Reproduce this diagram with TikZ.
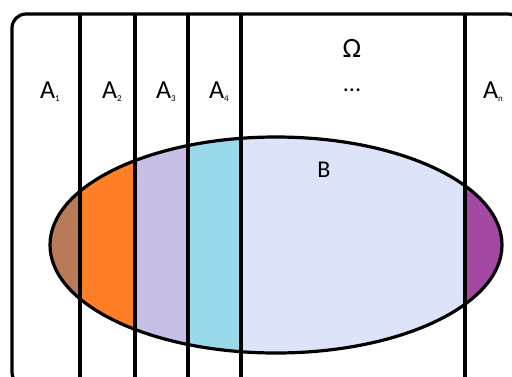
\documentclass[tikz,border=0pt]{standalone}
\usepackage{fontspec}
\setmainfont{Carlito}
\definecolor{cbrown}{HTML}{B97A57}
\definecolor{corange}{HTML}{FF7F27}
\definecolor{clav}{HTML}{C8BFE7}
\definecolor{ccyan}{HTML}{99D9EA}
\definecolor{cpale}{HTML}{DDE4FA}
\definecolor{cpurple}{HTML}{A349A4}
\newcommand{\Asub}[1]{A\raisebox{-3pt}{\fontsize{9}{9}\selectfont #1}}
\tikzset{
  edge/.style={line width=3.2pt, black},
  biglabel/.style={font=\fontsize{26}{26}\selectfont, inner sep=0pt},
  midlabel/.style={font=\fontsize{24}{24}\selectfont, inner sep=0pt},
  omegalabel/.style={font=\fontsize{28}{28}\selectfont, inner sep=0pt},
}
\begin{document}
\begin{tikzpicture}[x=1pt,y=-1pt]
\useasboundingbox (0,0) rectangle (512,376);
\clip (0,0) rectangle (512,376);
\fill[white] (0,0) rectangle (512,376);
% ellipse fills
\begin{scope}
  \clip (276,245) ellipse [x radius=226pt, y radius=108pt];
  \fill[cpale] (0,0) rectangle (512,376);
  \fill[cbrown] (0,0) rectangle (80,376);
  \fill[corange] (80,0) rectangle (135,376);
  \fill[clav] (135,0) rectangle (188,376);
  \fill[ccyan] (188,0) rectangle (241,376);
  \fill[cpurple] (465,0) rectangle (512,376);
\end{scope}
% partition lines
\coordinate (t1) at (80,14);  \coordinate (b1) at (80,390);
\coordinate (t2) at (135,14); \coordinate (b2) at (135,390);
\coordinate (t3) at (188,14); \coordinate (b3) at (188,390);
\coordinate (t4) at (241,14); \coordinate (b4) at (241,390);
\coordinate (tn) at (465,14); \coordinate (bn) at (465,390);
\foreach \i in {1,2,3,4,n} \draw[edge] (t\i) -- (b\i);
% ellipse border
\draw[edge] (276,245) ellipse [x radius=226pt, y radius=108pt];
% outer rounded rectangle (Omega)
\draw[edge, rounded corners=14pt] (12,14) rectangle (522,386);
% labels
\node[biglabel] (lA1) at (50,92) {\Asub{1}};
\node[biglabel] (lA2) at (112,92) {\Asub{2}};
\node[biglabel] (lA3) at (166,92) {\Asub{3}};
\node[biglabel] (lA4) at (219,92) {\Asub{4}};
\node[biglabel] (lAn) at (493,92) {\Asub{n}};
\node[omegalabel] (lOmega) at (352,48) {Ω};
\node[midlabel] (ldots) at (352,90) {...};
\node[midlabel] (lB) at (324,170) {B};
\end{tikzpicture}
\end{document}
